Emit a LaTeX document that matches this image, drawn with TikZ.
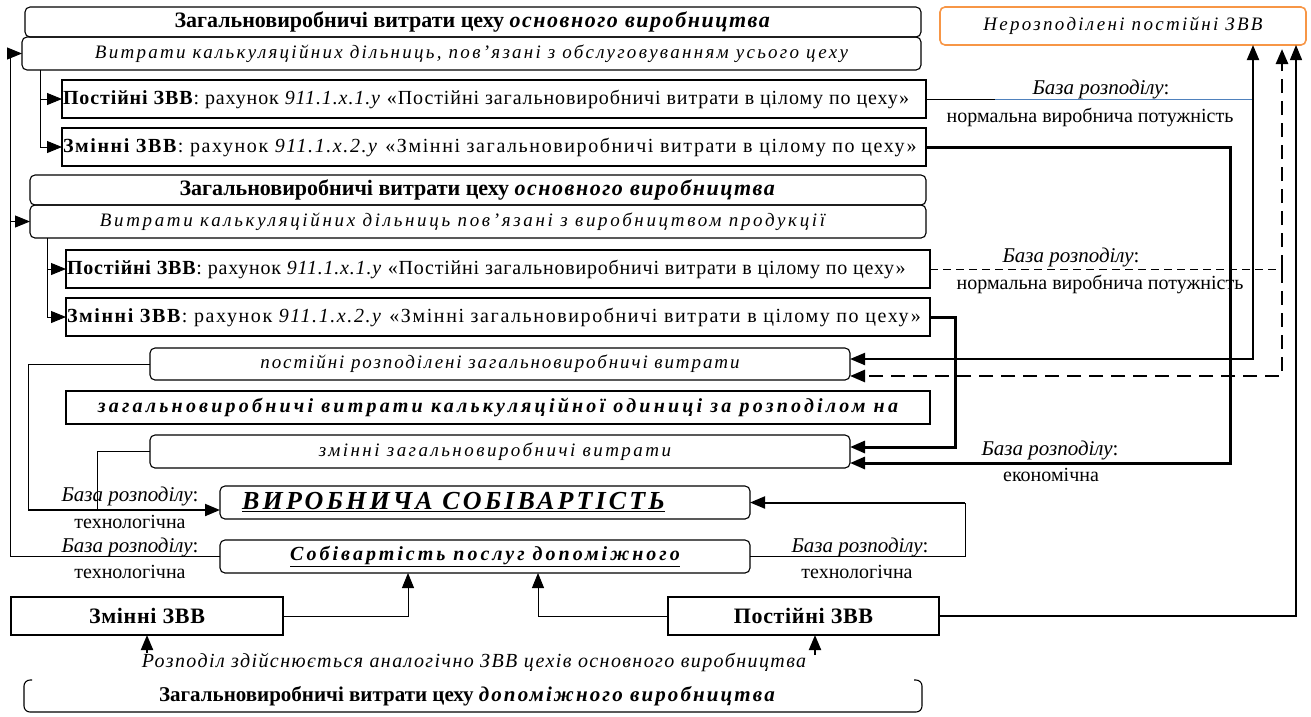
\documentclass[tikz,border=0pt]{standalone}
\usepackage{fontspec}
\setmainfont{Liberation Serif}
\newfontfamily\lsThree[LetterSpace=3]{Liberation Serif}
\newfontfamily\lsFour[LetterSpace=4]{Liberation Serif}
\newfontfamily\lsFourH[LetterSpace=4.5]{Liberation Serif}
\newfontfamily\lsSeven[LetterSpace=7]{Liberation Serif}
\newfontfamily\lsEight[LetterSpace=8]{Liberation Serif}
\newfontfamily\lsTen[LetterSpace=10]{Liberation Serif}
\newfontfamily\lsTwelve[LetterSpace=12]{Liberation Serif}
\newfontfamily\lsThirteen[LetterSpace=13]{Liberation Serif}
\newfontfamily\lsFourteen[LetterSpace=14]{Liberation Serif}
\newfontfamily\lsFifteen[LetterSpace=15]{Liberation Serif}
\newfontfamily\lsSixteen[LetterSpace=16]{Liberation Serif}
\usetikzlibrary{arrows.meta,calc}
\definecolor{orng}{RGB}{247,150,70}
\definecolor{bln}{RGB}{79,129,189}
\tikzset{
  base/.style={inner sep=0pt, outer sep=0pt, font=\fontsize{17}{20}\selectfont},
  fs19/.style={font=\fontsize{19}{22}\selectfont},
  fs20/.style={font=\fontsize{20}{23}\selectfont},
  fs21/.style={font=\fontsize{21}{24}\selectfont},
  fs22/.style={font=\fontsize{22}{25}\selectfont},
  fs26/.style={font=\fontsize{26}{28}\selectfont},
  rbox/.style={base, draw, rounded corners=5pt, line width=1.1pt, anchor=north west, align=center},
  sbox/.style={base, draw, line width=1.1pt, anchor=north west},
  lbox/.style={sbox, inner xsep=1pt, fs20},
  ilbl/.style={base, font=\fontsize{21}{24}\selectfont\itshape},
  ulbl/.style={base, fs20},
  conn/.style={line width=0.9pt},
  tip/.style={-{Triangle[length=15pt,width=12pt]}},
  arr/.style={conn, tip},
  midarr/.style={line width=2pt, tip},
  fatarr/.style={line width=3pt, tip},
  longdash/.style={line width=2.6pt, dash pattern=on 14pt off 8pt},
  shortdash/.style={line width=1pt, dash pattern=on 8pt off 5pt},
}
\begin{document}
\begin{tikzpicture}[x=1pt,y=-1pt]
\useasboundingbox (0,0) rectangle (1311,716);
% --- top block
\node[rbox, fs22, minimum width=896pt, minimum height=30pt] (A1) at (25,7)
  {\textbf{Загальновиробничі витрати цеху {\lsSeven\bfseries\itshape основного виробництва}}};
\node[rbox, fs19, minimum width=899pt, minimum height=33pt] (A2) at (22,37)
  {{\lsTwelve\itshape Витрати калькуляційних дільниць, пов’язані з обслуговуванням усього цеху}};
\node[rbox, fs19, draw=orng, line width=1.6pt, minimum width=366pt, minimum height=38pt] (O) at (940,7)
  {{\lsTwelve\itshape Нерозподілені постійні ЗВВ}};
\node[lbox, minimum height=38pt] (A3) at (62,80)
  {\makebox[862pt][l]{\lsFourH\textbf{Постійні ЗВВ}: рахунок \textit{911.1.х.1.у} «Постійні загальновиробничі витрати в цілому по цеху»}};
\node[lbox, minimum height=38pt] (A4) at (62,128)
  {\makebox[862pt][l]{\lsEight\textbf{Змінні ЗВВ}: рахунок \textit{911.1.х.2.у} «Змінні загальновиробничі витрати в цілому по цеху»}};
% --- second block
\node[rbox, fs22, minimum width=896pt, minimum height=30pt] (B1) at (30,175)
  {\textbf{Загальновиробничі витрати цеху {\lsSeven\bfseries\itshape основного виробництва}}};
\node[rbox, fs19, minimum width=896pt, minimum height=33pt] (B2) at (30,205)
  {\kern-31pt{\lsFourteen\itshape Витрати калькуляційних дільниць пов’язані з виробництвом продукції}};
\node[lbox, minimum height=38pt] (B3) at (66,250)
  {\makebox[862pt][l]{\lsFour\textbf{Постійні ЗВВ}: рахунок \textit{911.1.х.1.у} «Постійні загальновиробничі витрати в цілому по цеху»}};
\node[lbox, minimum height=38pt] (B4) at (66,298)
  {\makebox[862pt][l]{\lsEight\textbf{Змінні ЗВВ}: рахунок \textit{911.1.х.2.у} «Змінні загальновиробничі витрати в цілому по цеху»}};
% --- distribution
\node[rbox, fs19, minimum width=700pt, minimum height=32pt] (C1) at (150,348)
  {{\lsTen\itshape постійні розподілені загальновиробничі витрати}};
\node[sbox, fs20, line width=2pt, minimum width=864pt, minimum height=33pt] (C2) at (66,391)
  {{\lsSixteen\bfseries\itshape загальновиробничі витрати калькуляційної одиниці за розподілом на}};
\node[rbox, fs19, minimum width=700pt, minimum height=33pt] (C3) at (150,435)
  {\kern-10pt{\lsThirteen\itshape змінні загальновиробничі витрати}};
\node[rbox, fs26, minimum width=530pt, minimum height=33pt] (D1) at (220,486)
  {\kern-63pt{\lsTwelve\bfseries\itshape \underline{ВИРОБНИЧА СОБІВАРТІСТЬ}}};
\node[rbox, fs20, minimum width=530pt, minimum height=33pt] (D2) at (220,540)
  {{\lsFifteen\bfseries\itshape \underline{Собівартість послуг допоміжного}}};
% --- auxiliary
\node[sbox, fs22, line width=2pt, minimum width=272pt, minimum height=38pt] (E1) at (11,597) {{\lsThree\bfseries Змінні ЗВВ}};
\node[sbox, fs22, line width=2pt, minimum width=271pt, minimum height=38pt] (E2) at (668,597) {{\lsThree\bfseries Постійні ЗВВ}};
\node[base, fs20] (R) at (474,662) {{\lsSeven\itshape Розподіл здійснюється аналогічно ЗВВ цехів основного виробництва}};
\node[base, fs21, anchor=north west, minimum width=898pt, minimum height=32pt] (F) at (24,680)
  {\kern-10pt\textbf{Загальновиробничі витрати цеху {\lsTen\bfseries\itshape допоміжного виробництва}}};
\draw[line width=1.1pt, rounded corners=6pt] ($(F.north west)+(8,0)$) -- (F.north west) -- (F.south west)
  -- (F.south east) -- (F.north east) -- ++(-8,0);
% --- labels
\node[ilbl] (L1a) at (1101,89) {База розподілу\upshape:};
\node[ulbl] (L1b) at (1090,117) {нормальна виробнича потужність};
\node[ilbl] (L2a) at (1071,257) {База розподілу\upshape:};
\node[ulbl] (L2b) at (1100,284) {нормальна виробнича потужність};
\node[ilbl] (L3a) at (1050,450) {База розподілу\upshape:};
\node[ulbl] (L3b) at (1051,475) {економічна};
\node[ilbl] (L4a) at (130,496) {База розподілу\upshape:};
\node[ulbl] (L4b) at (130,522) {технологічна};
\node[ilbl] (L5a) at (130,547) {База розподілу\upshape:};
\node[ulbl] (L5b) at (130,572) {технологічна};
\node[ilbl] (L6a) at (860,547) {База розподілу\upshape:};
\node[ulbl] (L6b) at (857,572) {технологічна};
% --- coordinates
\coordinate (a2b) at ($(A2.south west)+(18,0)$);
\coordinate (b2b) at ($(B2.south west)+(17,0)$);
\coordinate (lft) at (10,0);
\coordinate (j1) at (1253,99);
\coordinate (jb) at (995,99);
\coordinate (j2) at (1282,269);
\coordinate (j3) at (1230,463);
\coordinate (c1hi) at ($(C1.north east)+(0,11)$);
\coordinate (c1lo) at ($(C1.south east)+(0,-4)$);
\coordinate (c3hi) at ($(C3.north east)+(0,12)$);
\coordinate (c3lo) at ($(C3.south east)+(0,-5)$);
\coordinate (d1in) at ($(D1.south west)+(0,-9)$);
\coordinate (k1) at (28,510);
\coordinate (k3) at (97,510);
\coordinate (k2) at ($(D1.east)+(215,0)$);
\coordinate (r2) at (815,655);
% --- connectors: left loop
\draw[conn] (D2.west) -- (D2.west -| lft) -- (lft |- A2.west);
\draw[arr] (lft |- A2.west) -- (A2.west);
\draw[arr] (lft |- B2.west) -- (B2.west);
\draw[arr] (a2b) |- (A3.west);
\draw[arr] (a2b) |- (A4.west);
\draw[arr] (b2b) |- (B3.west);
\draw[arr] (b2b) |- (B4.west);
% --- fixed costs main
\draw[conn] (A3.east) -- (jb);
\draw[conn, bln] (jb) -- (j1);
\draw[midarr] (j1) -- (j1 |- O.south);
\draw[midarr] (j1) |- (c1hi);
\draw[shortdash] (B3.east) -- (j2);
\draw[longdash, tip] (j2) -- ($(j2 |- O.south)+(0,4)$);
\draw[longdash, tip] (j2) |- (c1lo);
\draw[line width=1.2pt, tip] (E2.east) -| ($(O.south east)+(-10,0)$);
% --- variable costs
\draw[fatarr] (A4.east) -| (j3) -- (c3lo);
\draw[fatarr] (B4.east) -- ++(25,0) |- (c3hi);
% --- to production cost
\draw[conn] (C1.west) -| (k1);
\draw[conn] (C3.west) -| (k3);
\draw[midarr] (k1) -- (d1in);
\draw[conn] (D2.east) -| (k2);
\draw[midarr] (k2) -- (D1.east);
\draw[arr] (E1.east) -| ($(D2.south west)+(188,0)$);
\draw[arr] (E2.west) -| ($(D2.south west)+(318,0)$);
\draw[midarr] (R.north -| E1.south) -- (E1.south);
\draw[midarr] (r2) -- (r2 |- E2.south);
\end{tikzpicture}
\end{document}
